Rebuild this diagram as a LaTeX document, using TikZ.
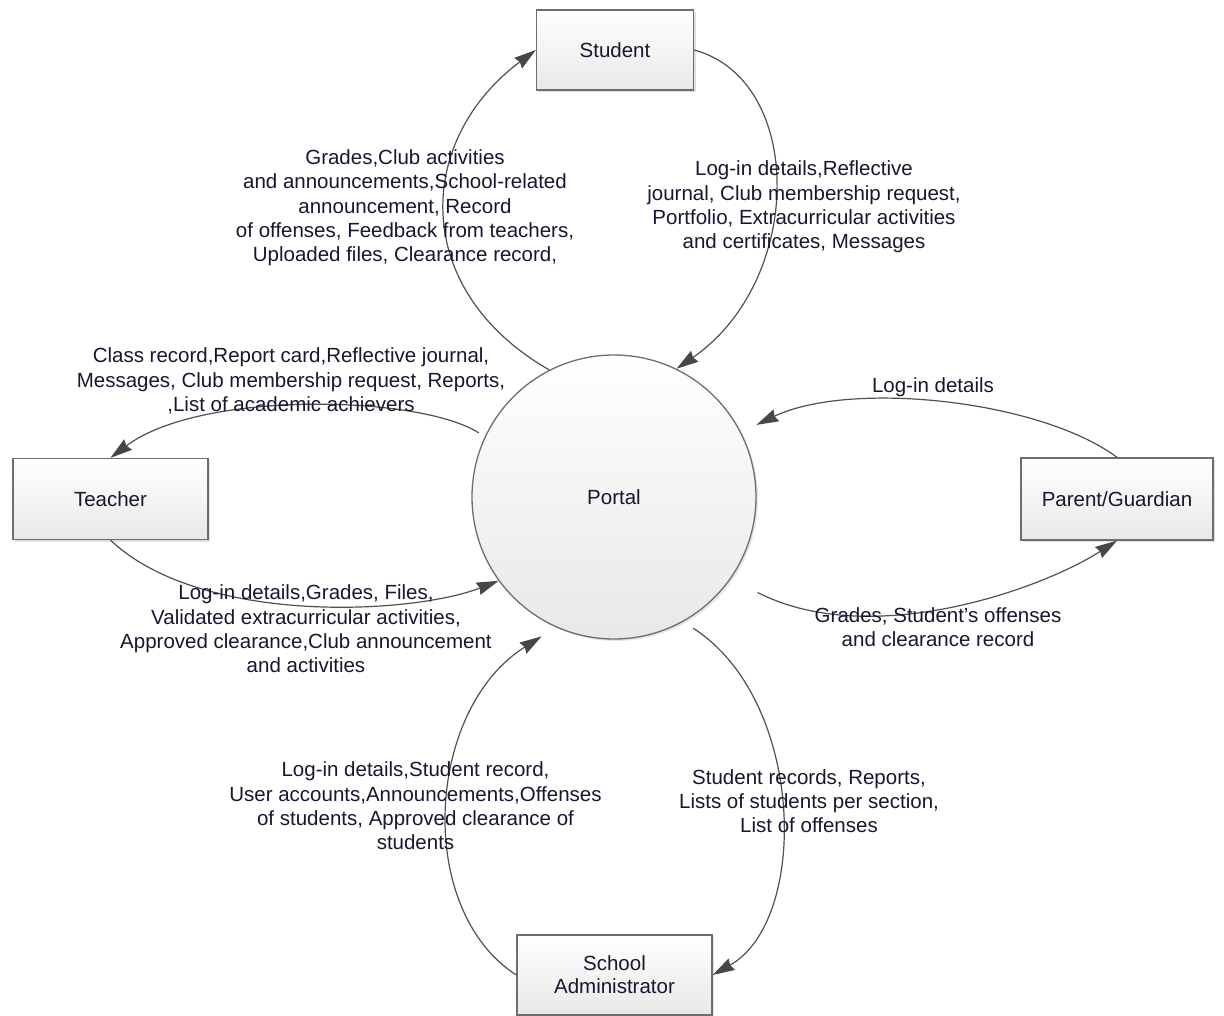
\documentclass[tikz,border=0pt]{standalone}
\usepackage{fontspec}
\setmainfont{Liberation Sans}
\usetikzlibrary{arrows.meta,shadows}
\definecolor{linegray}{HTML}{505050}
\definecolor{headgray}{HTML}{474747}
\definecolor{boxedge}{HTML}{6E6E6E}
\definecolor{txt}{HTML}{1A1530}
\tikzset{
  entity/.style={draw=boxedge, line width=1.3pt, top color=white, bottom color=black!9,
    minimum width=195pt, minimum height=80pt, align=center, text=txt,
    font=\fontsize{20.5}{23}\selectfont,
    drop shadow={shadow xshift=2pt, shadow yshift=-2pt, opacity=0.25}},
  process/.style={circle, draw=boxedge, line width=1.3pt, top color=white, bottom color=black!9,
    minimum size=284pt, text=txt, font=\fontsize{20.5}{23}\selectfont,
    drop shadow={shadow xshift=2pt, shadow yshift=-2pt, opacity=0.2}},
  flow/.style={draw=linegray, line width=1.2pt,
    -{Stealth[length=22pt, width=13pt, inset=2pt, color=headgray]}},
  lbl/.style={align=center, inner sep=0pt, text=txt, font=\fontsize{20.5}{24.3}\selectfont}
}
\begin{document}
\begin{tikzpicture}[x=1pt, y=1pt]
				\useasboundingbox (0,0) rectangle (1224,-1016);
				% process and entities
				\node[process] (portal) at (614,-497) {Portal};
				\node[entity, minimum width=157pt] (student) at (615,-50) {Student};
				\node[entity, minimum height=81pt] (teacher) at (110.5,-499) {Teacher};
				\node[entity, minimum width=192pt, minimum height=82pt] (parent) at (1117,-499) {Parent/Guardian};
				\node[entity] (admin) at (614.5,-975) {School\\Administrator};
				% data flows
				\draw[flow] (portal.117) .. controls (410,-290) and (415,-140) .. (student.west);
				\draw[flow] (student.east) .. controls (805,-80) and (805,-280) .. (portal.64);
				\draw[flow, shorten <=7pt] (portal.155) .. controls (420,-395) and (200,-390) .. (teacher.north);
				\draw[flow] (teacher.south) .. controls (200,-625) and (410,-615) .. (portal.216);
				\draw[flow, shorten >=17pt] (parent.north) .. controls (1040,-400) and (850,-380) .. (portal.27);
				\draw[flow, shorten <=30pt] (portal.-35) .. controls (870,-650) and (1040,-590) .. (parent.south);
				\draw[flow, shorten >=17pt] (admin.west) .. controls (415,-910) and (425,-710) .. (portal.246);
				\draw[flow, shorten <=12pt] (portal.-61) .. controls (805,-700) and (810,-920) .. (admin.east);
				% flow labels
				\node[lbl] (student-in) at (405,-208) {Grades,Club activities\\and announcements,School-related\\announcement, Record\\of offenses, Feedback from teachers,\\Uploaded files, Clearance record,};
				\node[lbl] (student-out) at (804,-207) {Log-in details,Reflective\\journal, Club membership request,\\Portfolio, Extracurricular activities\\and certificates, Messages};
				\node[lbl] (teacher-in) at (291,-381) {Class record,Report card,Reflective journal,\\Messages, Club membership request, Reports,\\,List of academic achievers};
				\node[lbl] (teacher-out) at (306,-629) {Log-in details,Grades, Files,\\Validated extracurricular activities,\\Approved clearance,Club announcement\\and activities};
				\node[lbl] (parent-out) at (933,-387) {Log-in details};
				\node[lbl] (parent-in) at (938,-627) {Grades, Student's offenses\\and clearance record};
				\node[lbl] (admin-out) at (415.5,-806) {Log-in details,Student record,\\User accounts,Announcements,Offenses\\of students, Approved clearance of\\students};
				\node[lbl] (admin-in) at (809,-801) {Student records, Reports,\\Lists of students per section,\\List of offenses};
\end{tikzpicture}
\end{document}
